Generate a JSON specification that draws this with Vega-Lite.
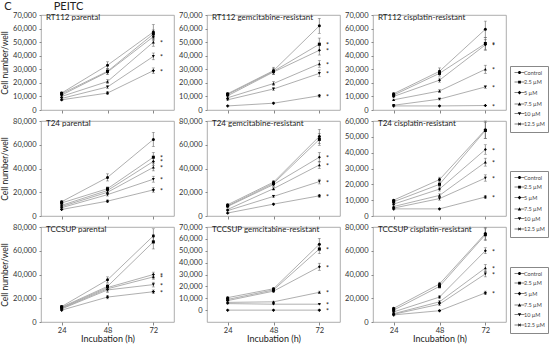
{
"$schema": "https://vega.github.io/schema/vega-lite/v6.json",
"padding": {"left": 0, "top": 0, "right": 0, "bottom": 0},
"title": {"text": "C\u00a0\u00a0\u00a0\u00a0\u00a0\u00a0\u00a0\u00a0\u00a0\u00a0\u00a0\u00a0\u00a0\u00a0\u00a0PEITC", "anchor": "start", "fontSize": 11, "offset": -1, "dx": 4, "frame": "bounds", "color": "#222"},
"datasets": {"d": [
{"p":1,"s":"Control","t":24,"v":12500,"e":800,"sig":0},{"p":1,"s":"Control","t":48,"v":33000,"e":2500,"sig":0},{"p":1,"s":"Control","t":72,"v":57500,"e":5500,"sig":0},
{"p":1,"s":"2.5 µM","t":24,"v":12000,"e":700,"sig":0},{"p":1,"s":"2.5 µM","t":48,"v":28500,"e":2000,"sig":0},{"p":1,"s":"2.5 µM","t":72,"v":56000,"e":3000,"sig":0},
{"p":1,"s":"5 µM","t":24,"v":11000,"e":700,"sig":0},{"p":1,"s":"5 µM","t":48,"v":28000,"e":2000,"sig":0},{"p":1,"s":"5 µM","t":72,"v":54000,"e":3000,"sig":0},
{"p":1,"s":"7.5 µM","t":24,"v":10000,"e":600,"sig":0},{"p":1,"s":"7.5 µM","t":48,"v":21000,"e":1500,"sig":0},{"p":1,"s":"7.5 µM","t":72,"v":50000,"e":3000,"sig":1},
{"p":1,"s":"10 µM","t":24,"v":8500,"e":500,"sig":0},{"p":1,"s":"10 µM","t":48,"v":17000,"e":1200,"sig":0},{"p":1,"s":"10 µM","t":72,"v":39500,"e":2500,"sig":1},
{"p":1,"s":"12.5 µM","t":24,"v":7500,"e":400,"sig":0},{"p":1,"s":"12.5 µM","t":48,"v":12500,"e":1000,"sig":0},{"p":1,"s":"12.5 µM","t":72,"v":29000,"e":2000,"sig":1},
{"p":2,"s":"Control","t":24,"v":12000,"e":800,"sig":0},{"p":2,"s":"Control","t":48,"v":29000,"e":2500,"sig":0},{"p":2,"s":"Control","t":72,"v":62000,"e":5500,"sig":0},
{"p":2,"s":"2.5 µM","t":24,"v":11500,"e":600,"sig":0},{"p":2,"s":"2.5 µM","t":48,"v":28500,"e":2000,"sig":0},{"p":2,"s":"2.5 µM","t":72,"v":48500,"e":4500,"sig":1},
{"p":2,"s":"5 µM","t":24,"v":10500,"e":600,"sig":0},{"p":2,"s":"5 µM","t":48,"v":28000,"e":2000,"sig":0},{"p":2,"s":"5 µM","t":72,"v":44000,"e":3500,"sig":1},
{"p":2,"s":"7.5 µM","t":24,"v":9000,"e":500,"sig":0},{"p":2,"s":"7.5 µM","t":48,"v":19500,"e":1500,"sig":0},{"p":2,"s":"7.5 µM","t":72,"v":34000,"e":2500,"sig":1},
{"p":2,"s":"10 µM","t":24,"v":7500,"e":500,"sig":0},{"p":2,"s":"10 µM","t":48,"v":15500,"e":1200,"sig":0},{"p":2,"s":"10 µM","t":72,"v":27000,"e":2500,"sig":1},
{"p":2,"s":"12.5 µM","t":24,"v":3000,"e":300,"sig":0},{"p":2,"s":"12.5 µM","t":48,"v":5000,"e":500,"sig":0},{"p":2,"s":"12.5 µM","t":72,"v":10500,"e":1000,"sig":1},
{"p":3,"s":"Control","t":24,"v":12000,"e":600,"sig":0},{"p":3,"s":"Control","t":48,"v":28500,"e":2500,"sig":0},{"p":3,"s":"Control","t":72,"v":59500,"e":6000,"sig":0},
{"p":3,"s":"2.5 µM","t":24,"v":11000,"e":600,"sig":0},{"p":3,"s":"2.5 µM","t":48,"v":27000,"e":2000,"sig":0},{"p":3,"s":"2.5 µM","t":72,"v":49000,"e":4500,"sig":1},
{"p":3,"s":"5 µM","t":24,"v":10000,"e":600,"sig":0},{"p":3,"s":"5 µM","t":48,"v":22000,"e":1500,"sig":0},{"p":3,"s":"5 µM","t":72,"v":48000,"e":4000,"sig":1},
{"p":3,"s":"7.5 µM","t":24,"v":7500,"e":500,"sig":0},{"p":3,"s":"7.5 µM","t":48,"v":14000,"e":1000,"sig":0},{"p":3,"s":"7.5 µM","t":72,"v":30000,"e":3000,"sig":1},
{"p":3,"s":"10 µM","t":24,"v":3500,"e":300,"sig":0},{"p":3,"s":"10 µM","t":48,"v":8000,"e":600,"sig":0},{"p":3,"s":"10 µM","t":72,"v":17000,"e":1000,"sig":1},
{"p":3,"s":"12.5 µM","t":24,"v":3000,"e":200,"sig":0},{"p":3,"s":"12.5 µM","t":48,"v":3000,"e":300,"sig":0},{"p":3,"s":"12.5 µM","t":72,"v":3300,"e":300,"sig":1},
{"p":4,"s":"Control","t":24,"v":12000,"e":800,"sig":0},{"p":4,"s":"Control","t":48,"v":32500,"e":3000,"sig":0},{"p":4,"s":"Control","t":72,"v":64500,"e":6000,"sig":0},
{"p":4,"s":"2.5 µM","t":24,"v":11000,"e":600,"sig":0},{"p":4,"s":"2.5 µM","t":48,"v":23000,"e":1500,"sig":0},{"p":4,"s":"2.5 µM","t":72,"v":49500,"e":4000,"sig":1},
{"p":4,"s":"5 µM","t":24,"v":9000,"e":600,"sig":0},{"p":4,"s":"5 µM","t":48,"v":21500,"e":1500,"sig":0},{"p":4,"s":"5 µM","t":72,"v":46000,"e":3500,"sig":1},
{"p":4,"s":"7.5 µM","t":24,"v":8000,"e":500,"sig":0},{"p":4,"s":"7.5 µM","t":48,"v":20000,"e":1500,"sig":0},{"p":4,"s":"7.5 µM","t":72,"v":41000,"e":3000,"sig":1},
{"p":4,"s":"10 µM","t":24,"v":7000,"e":500,"sig":0},{"p":4,"s":"10 µM","t":48,"v":18000,"e":1200,"sig":0},{"p":4,"s":"10 µM","t":72,"v":31000,"e":2500,"sig":1},
{"p":4,"s":"12.5 µM","t":24,"v":5500,"e":400,"sig":0},{"p":4,"s":"12.5 µM","t":48,"v":12500,"e":1000,"sig":0},{"p":4,"s":"12.5 µM","t":72,"v":22000,"e":2000,"sig":1},
{"p":5,"s":"Control","t":24,"v":9500,"e":500,"sig":0},{"p":5,"s":"Control","t":48,"v":28500,"e":1500,"sig":0},{"p":5,"s":"Control","t":72,"v":67000,"e":6000,"sig":0},
{"p":5,"s":"2.5 µM","t":24,"v":8500,"e":500,"sig":0},{"p":5,"s":"2.5 µM","t":48,"v":27500,"e":1500,"sig":0},{"p":5,"s":"2.5 µM","t":72,"v":64500,"e":5000,"sig":0},
{"p":5,"s":"5 µM","t":24,"v":8000,"e":500,"sig":0},{"p":5,"s":"5 µM","t":48,"v":26500,"e":1500,"sig":0},{"p":5,"s":"5 µM","t":72,"v":49500,"e":4000,"sig":1},
{"p":5,"s":"7.5 µM","t":24,"v":5500,"e":400,"sig":0},{"p":5,"s":"7.5 µM","t":48,"v":23000,"e":1200,"sig":0},{"p":5,"s":"7.5 µM","t":72,"v":43000,"e":3000,"sig":1},
{"p":5,"s":"10 µM","t":24,"v":4500,"e":300,"sig":0},{"p":5,"s":"10 µM","t":48,"v":16500,"e":1000,"sig":0},{"p":5,"s":"10 µM","t":72,"v":29000,"e":2000,"sig":1},
{"p":5,"s":"12.5 µM","t":24,"v":2500,"e":200,"sig":0},{"p":5,"s":"12.5 µM","t":48,"v":10000,"e":600,"sig":0},{"p":5,"s":"12.5 µM","t":72,"v":17000,"e":1200,"sig":1},
{"p":6,"s":"Control","t":24,"v":10000,"e":500,"sig":0},{"p":6,"s":"Control","t":48,"v":23000,"e":1500,"sig":0},{"p":6,"s":"Control","t":72,"v":54500,"e":5500,"sig":0},
{"p":6,"s":"2.5 µM","t":24,"v":9000,"e":500,"sig":0},{"p":6,"s":"2.5 µM","t":48,"v":20000,"e":1500,"sig":0},{"p":6,"s":"2.5 µM","t":72,"v":54000,"e":5000,"sig":0},
{"p":6,"s":"5 µM","t":24,"v":7500,"e":400,"sig":0},{"p":6,"s":"5 µM","t":48,"v":17000,"e":1200,"sig":0},{"p":6,"s":"5 µM","t":72,"v":42000,"e":3000,"sig":1},
{"p":6,"s":"7.5 µM","t":24,"v":6000,"e":400,"sig":0},{"p":6,"s":"7.5 µM","t":48,"v":13000,"e":1000,"sig":0},{"p":6,"s":"7.5 µM","t":72,"v":34000,"e":2500,"sig":1},
{"p":6,"s":"10 µM","t":24,"v":5000,"e":300,"sig":0},{"p":6,"s":"10 µM","t":48,"v":11000,"e":1000,"sig":0},{"p":6,"s":"10 µM","t":72,"v":24000,"e":2000,"sig":1},
{"p":6,"s":"12.5 µM","t":24,"v":4500,"e":300,"sig":0},{"p":6,"s":"12.5 µM","t":48,"v":4500,"e":400,"sig":0},{"p":6,"s":"12.5 µM","t":72,"v":12000,"e":1000,"sig":1},
{"p":7,"s":"Control","t":24,"v":13000,"e":800,"sig":0},{"p":7,"s":"Control","t":48,"v":35500,"e":2500,"sig":0},{"p":7,"s":"Control","t":72,"v":72500,"e":6000,"sig":0},
{"p":7,"s":"2.5 µM","t":24,"v":12500,"e":800,"sig":0},{"p":7,"s":"2.5 µM","t":48,"v":30000,"e":2000,"sig":0},{"p":7,"s":"2.5 µM","t":72,"v":67500,"e":6000,"sig":0},
{"p":7,"s":"5 µM","t":24,"v":12000,"e":600,"sig":0},{"p":7,"s":"5 µM","t":48,"v":29000,"e":2000,"sig":0},{"p":7,"s":"5 µM","t":72,"v":40000,"e":2000,"sig":1},
{"p":7,"s":"7.5 µM","t":24,"v":11500,"e":600,"sig":0},{"p":7,"s":"7.5 µM","t":48,"v":28000,"e":2000,"sig":0},{"p":7,"s":"7.5 µM","t":72,"v":38000,"e":2000,"sig":1},
{"p":7,"s":"10 µM","t":24,"v":11000,"e":600,"sig":0},{"p":7,"s":"10 µM","t":48,"v":27000,"e":2000,"sig":0},{"p":7,"s":"10 µM","t":72,"v":31500,"e":2000,"sig":1},
{"p":7,"s":"12.5 µM","t":24,"v":10000,"e":500,"sig":0},{"p":7,"s":"12.5 µM","t":48,"v":21000,"e":1500,"sig":0},{"p":7,"s":"12.5 µM","t":72,"v":25500,"e":1500,"sig":1},
{"p":8,"s":"Control","t":24,"v":10500,"e":500,"sig":0},{"p":8,"s":"Control","t":48,"v":18000,"e":1000,"sig":0},{"p":8,"s":"Control","t":72,"v":55500,"e":5000,"sig":0},
{"p":8,"s":"2.5 µM","t":24,"v":9000,"e":500,"sig":0},{"p":8,"s":"2.5 µM","t":48,"v":17000,"e":1000,"sig":0},{"p":8,"s":"2.5 µM","t":72,"v":51500,"e":4000,"sig":1},
{"p":8,"s":"5 µM","t":24,"v":8000,"e":400,"sig":0},{"p":8,"s":"5 µM","t":48,"v":16000,"e":1000,"sig":0},{"p":8,"s":"5 µM","t":72,"v":36500,"e":3000,"sig":1},
{"p":8,"s":"7.5 µM","t":24,"v":6500,"e":300,"sig":0},{"p":8,"s":"7.5 µM","t":48,"v":7000,"e":500,"sig":0},{"p":8,"s":"7.5 µM","t":72,"v":15000,"e":1000,"sig":1},
{"p":8,"s":"10 µM","t":24,"v":5500,"e":300,"sig":0},{"p":8,"s":"10 µM","t":48,"v":5000,"e":300,"sig":0},{"p":8,"s":"10 µM","t":72,"v":5000,"e":300,"sig":1},
{"p":8,"s":"12.5 µM","t":24,"v":0,"e":0,"sig":0},{"p":8,"s":"12.5 µM","t":48,"v":0,"e":0,"sig":0},{"p":8,"s":"12.5 µM","t":72,"v":0,"e":0,"sig":1},
{"p":9,"s":"Control","t":24,"v":11500,"e":600,"sig":0},{"p":9,"s":"Control","t":48,"v":32000,"e":1500,"sig":0},{"p":9,"s":"Control","t":72,"v":74500,"e":5000,"sig":0},
{"p":9,"s":"2.5 µM","t":24,"v":10000,"e":500,"sig":0},{"p":9,"s":"2.5 µM","t":48,"v":30000,"e":1500,"sig":0},{"p":9,"s":"2.5 µM","t":72,"v":73500,"e":5000,"sig":0},
{"p":9,"s":"5 µM","t":24,"v":8500,"e":500,"sig":0},{"p":9,"s":"5 µM","t":48,"v":21000,"e":1200,"sig":0},{"p":9,"s":"5 µM","t":72,"v":60000,"e":2500,"sig":1},
{"p":9,"s":"7.5 µM","t":24,"v":7000,"e":400,"sig":0},{"p":9,"s":"7.5 µM","t":48,"v":17000,"e":1000,"sig":0},{"p":9,"s":"7.5 µM","t":72,"v":45500,"e":3000,"sig":1},
{"p":9,"s":"10 µM","t":24,"v":6500,"e":400,"sig":0},{"p":9,"s":"10 µM","t":48,"v":15000,"e":1000,"sig":0},{"p":9,"s":"10 µM","t":72,"v":40500,"e":2500,"sig":1},
{"p":9,"s":"12.5 µM","t":24,"v":6000,"e":300,"sig":0},{"p":9,"s":"12.5 µM","t":48,"v":9500,"e":600,"sig":0},{"p":9,"s":"12.5 µM","t":72,"v":24500,"e":1500,"sig":1}
]},
"data": {"name": "d"},
"columns": 3,
"spacing": {"row": 11, "column": 33},
"bounds": "flush",
"resolve": {"scale": {"shape": "independent"}, "legend": {"shape": "independent"}},
"concat": [
 {"width": 133, "height": 95, "title": {"text": "RT112 parental", "color": "#222"}, "transform": [{"filter": "datum.p == 1"}],
  "encoding": {"x": {"field": "t", "type": "ordinal", "scale": {"type": "point", "padding": 0.45}, "axis": {"title": null, "labels": false}},
   "y": {"field": "v", "type": "quantitative", "scale": {"domain": [0, 70000], "nice": false}, "axis": {"title": "Cell number/well", "values": [0,10000,20000,30000,40000,50000,60000,70000], "format": ",d"}}},
  "layer": [
   {"mark": {"type": "line", "color": "#9a9a9a", "strokeWidth": 0.8}, "encoding": {"detail": {"field": "s"}}},
   {"mark": {"type": "errorbar", "ticks": {"size": 3}, "thickness": 0.6, "color": "#555"}, "encoding": {"yError": {"field": "e"}}},
   {"mark": {"type": "point", "filled": true, "color": "black", "size": 9, "opacity": 1}, "encoding": {"shape": {"field": "s", "type": "nominal", "scale": {"domain": ["Control","2.5 µM","5 µM","7.5 µM","10 µM","12.5 µM"], "range": ["circle","square","diamond","triangle-up","triangle-down","cross"]}, "legend": null}}},
   {"transform": [{"filter": "datum.sig == 1"}], "mark": {"type": "text", "text": "*", "dx": 8, "dy": 2, "fontSize": 7, "color": "#222"}}
  ]},
 {"width": 133, "height": 95, "title": {"text": "RT112 gemcitabine-resistant", "color": "#222"}, "transform": [{"filter": "datum.p == 2"}],
  "encoding": {"x": {"field": "t", "type": "ordinal", "scale": {"type": "point", "padding": 0.45}, "axis": {"title": null, "labels": false}},
   "y": {"field": "v", "type": "quantitative", "scale": {"domain": [0, 70000], "nice": false}, "axis": {"title": null, "values": [0,10000,20000,30000,40000,50000,60000,70000], "format": ",d"}}},
  "layer": [
   {"mark": {"type": "line", "color": "#9a9a9a", "strokeWidth": 0.8}, "encoding": {"detail": {"field": "s"}}},
   {"mark": {"type": "errorbar", "ticks": {"size": 3}, "thickness": 0.6, "color": "#555"}, "encoding": {"yError": {"field": "e"}}},
   {"mark": {"type": "point", "filled": true, "color": "black", "size": 9, "opacity": 1}, "encoding": {"shape": {"field": "s", "type": "nominal", "scale": {"domain": ["Control","2.5 µM","5 µM","7.5 µM","10 µM","12.5 µM"], "range": ["circle","square","diamond","triangle-up","triangle-down","cross"]}, "legend": null}}},
   {"transform": [{"filter": "datum.sig == 1"}], "mark": {"type": "text", "text": "*", "dx": 8, "dy": 2, "fontSize": 7, "color": "#222"}}
  ]},
 {"width": 133, "height": 95, "title": {"text": "RT112 cisplatin-resistant", "color": "#222"}, "transform": [{"filter": "datum.p == 3"}],
  "resolve": {"scale": {"shape": "independent"}},
  "encoding": {"x": {"field": "t", "type": "ordinal", "scale": {"type": "point", "padding": 0.45}, "axis": {"title": null, "labels": false}},
   "y": {"field": "v", "type": "quantitative", "scale": {"domain": [0, 70000], "nice": false}, "axis": {"title": null, "values": [0,10000,20000,30000,40000,50000,60000,70000], "format": ",d"}}},
  "layer": [
   {"mark": {"type": "line", "color": "#9a9a9a", "strokeWidth": 0.8}, "encoding": {"detail": {"field": "s"}}},
   {"mark": {"type": "errorbar", "ticks": {"size": 3}, "thickness": 0.6, "color": "#555"}, "encoding": {"yError": {"field": "e"}}},
   {"mark": {"type": "point", "filled": true, "color": "black", "size": 9, "opacity": 1}, "encoding": {"shape": {"field": "s", "type": "nominal", "scale": {"domain": ["Control","2.5 µM","5 µM","7.5 µM","10 µM","12.5 µM"], "range": ["circle","square","diamond","triangle-up","triangle-down","cross"]}, "legend": null}}},
   {"transform": [{"filter": "datum.sig == 1"}], "mark": {"type": "text", "text": "*", "dx": 8, "dy": 2, "fontSize": 7, "color": "#222"}},
   {"mark": {"type": "point", "filled": true, "color": "black", "size": 8, "opacity": 0}, "encoding": {"shape": {"field": "s", "type": "nominal", "scale": {"domain": ["Control","2.5 µM","5 µM","7.5 µM","10 µM","12.5 µM"], "range": [
     "M-2,-0.14H2V0.14H-2ZM0.6,0A0.6,0.6 0 1,1 -0.6,0A0.6,0.6 0 1,1 0.6,0Z",
     "M-2,-0.14H2V0.14H-2ZM-0.55,-0.55H0.55V0.55H-0.55Z",
     "M-2,-0.14H2V0.14H-2ZM0,-0.75L0.75,0L0,0.75L-0.75,0Z",
     "M-2,-0.14H2V0.14H-2ZM0,-0.7L0.7,0.55H-0.7Z",
     "M-2,-0.14H2V0.14H-2ZM0,0.7L-0.7,-0.55H0.7Z",
     "M-2,-0.14H2V0.14H-2ZM-0.6,-0.4L-0.4,-0.6L0,-0.2L0.4,-0.6L0.6,-0.4L0.2,0L0.6,0.4L0.4,0.6L0,0.2L-0.4,0.6L-0.6,0.4L-0.2,0Z"]},
     "legend": {"orient": "none", "legendX": 137, "legendY": 51}}}}
  ]},
 {"width": 133, "height": 95, "title": {"text": "T24 parental", "color": "#222"}, "transform": [{"filter": "datum.p == 4"}],
  "encoding": {"x": {"field": "t", "type": "ordinal", "scale": {"type": "point", "padding": 0.45}, "axis": {"title": null, "labels": false}},
   "y": {"field": "v", "type": "quantitative", "scale": {"domain": [0, 80000], "nice": false}, "axis": {"title": "Cell number/well", "values": [0,20000,40000,60000,80000], "format": ",d"}}},
  "layer": [
   {"mark": {"type": "line", "color": "#9a9a9a", "strokeWidth": 0.8}, "encoding": {"detail": {"field": "s"}}},
   {"mark": {"type": "errorbar", "ticks": {"size": 3}, "thickness": 0.6, "color": "#555"}, "encoding": {"yError": {"field": "e"}}},
   {"mark": {"type": "point", "filled": true, "color": "black", "size": 9, "opacity": 1}, "encoding": {"shape": {"field": "s", "type": "nominal", "scale": {"domain": ["Control","2.5 µM","5 µM","7.5 µM","10 µM","12.5 µM"], "range": ["circle","square","diamond","triangle-up","triangle-down","cross"]}, "legend": null}}},
   {"transform": [{"filter": "datum.sig == 1"}], "mark": {"type": "text", "text": "*", "dx": 8, "dy": 2, "fontSize": 7, "color": "#222"}}
  ]},
 {"width": 133, "height": 95, "title": {"text": "T24 gemcitabine-resistant", "color": "#222"}, "transform": [{"filter": "datum.p == 5"}],
  "encoding": {"x": {"field": "t", "type": "ordinal", "scale": {"type": "point", "padding": 0.45}, "axis": {"title": null, "labels": false}},
   "y": {"field": "v", "type": "quantitative", "scale": {"domain": [0, 80000], "nice": false}, "axis": {"title": null, "values": [0,20000,40000,60000,80000], "format": ",d"}}},
  "layer": [
   {"mark": {"type": "line", "color": "#9a9a9a", "strokeWidth": 0.8}, "encoding": {"detail": {"field": "s"}}},
   {"mark": {"type": "errorbar", "ticks": {"size": 3}, "thickness": 0.6, "color": "#555"}, "encoding": {"yError": {"field": "e"}}},
   {"mark": {"type": "point", "filled": true, "color": "black", "size": 9, "opacity": 1}, "encoding": {"shape": {"field": "s", "type": "nominal", "scale": {"domain": ["Control","2.5 µM","5 µM","7.5 µM","10 µM","12.5 µM"], "range": ["circle","square","diamond","triangle-up","triangle-down","cross"]}, "legend": null}}},
   {"transform": [{"filter": "datum.sig == 1"}], "mark": {"type": "text", "text": "*", "dx": 8, "dy": 2, "fontSize": 7, "color": "#222"}}
  ]},
 {"width": 133, "height": 95, "title": {"text": "T24 cisplatin-resistant", "color": "#222"}, "transform": [{"filter": "datum.p == 6"}],
  "resolve": {"scale": {"shape": "independent"}},
  "encoding": {"x": {"field": "t", "type": "ordinal", "scale": {"type": "point", "padding": 0.45}, "axis": {"title": null, "labels": false}},
   "y": {"field": "v", "type": "quantitative", "scale": {"domain": [0, 60000], "nice": false}, "axis": {"title": null, "values": [0,10000,20000,30000,40000,50000,60000], "format": ",d"}}},
  "layer": [
   {"mark": {"type": "line", "color": "#9a9a9a", "strokeWidth": 0.8}, "encoding": {"detail": {"field": "s"}}},
   {"mark": {"type": "errorbar", "ticks": {"size": 3}, "thickness": 0.6, "color": "#555"}, "encoding": {"yError": {"field": "e"}}},
   {"mark": {"type": "point", "filled": true, "color": "black", "size": 9, "opacity": 1}, "encoding": {"shape": {"field": "s", "type": "nominal", "scale": {"domain": ["Control","2.5 µM","5 µM","7.5 µM","10 µM","12.5 µM"], "range": ["circle","square","diamond","triangle-up","triangle-down","cross"]}, "legend": null}}},
   {"transform": [{"filter": "datum.sig == 1"}], "mark": {"type": "text", "text": "*", "dx": 8, "dy": 2, "fontSize": 7, "color": "#222"}},
   {"mark": {"type": "point", "filled": true, "color": "black", "size": 8, "opacity": 0}, "encoding": {"shape": {"field": "s", "type": "nominal", "scale": {"domain": ["Control","2.5 µM","5 µM","7.5 µM","10 µM","12.5 µM"], "range": [
     "M-2,-0.14H2V0.14H-2ZM0.6,0A0.6,0.6 0 1,1 -0.6,0A0.6,0.6 0 1,1 0.6,0Z",
     "M-2,-0.14H2V0.14H-2ZM-0.55,-0.55H0.55V0.55H-0.55Z",
     "M-2,-0.14H2V0.14H-2ZM0,-0.75L0.75,0L0,0.75L-0.75,0Z",
     "M-2,-0.14H2V0.14H-2ZM0,-0.7L0.7,0.55H-0.7Z",
     "M-2,-0.14H2V0.14H-2ZM0,0.7L-0.7,-0.55H0.7Z",
     "M-2,-0.14H2V0.14H-2ZM-0.6,-0.4L-0.4,-0.6L0,-0.2L0.4,-0.6L0.6,-0.4L0.2,0L0.6,0.4L0.4,0.6L0,0.2L-0.4,0.6L-0.6,0.4L-0.2,0Z"]},
     "legend": {"orient": "none", "legendX": 137, "legendY": 50}}}}
  ]},
 {"width": 133, "height": 95, "title": {"text": "TCCSUP parental", "color": "#222"}, "transform": [{"filter": "datum.p == 7"}],
  "encoding": {"x": {"field": "t", "type": "ordinal", "scale": {"type": "point", "padding": 0.45}, "axis": {"title": "Incubation (h)"}},
   "y": {"field": "v", "type": "quantitative", "scale": {"domain": [0, 80000], "nice": false}, "axis": {"title": "Cell number/well", "values": [0,20000,40000,60000,80000], "format": ",d"}}},
  "layer": [
   {"mark": {"type": "line", "color": "#9a9a9a", "strokeWidth": 0.8}, "encoding": {"detail": {"field": "s"}}},
   {"mark": {"type": "errorbar", "ticks": {"size": 3}, "thickness": 0.6, "color": "#555"}, "encoding": {"yError": {"field": "e"}}},
   {"mark": {"type": "point", "filled": true, "color": "black", "size": 9, "opacity": 1}, "encoding": {"shape": {"field": "s", "type": "nominal", "scale": {"domain": ["Control","2.5 µM","5 µM","7.5 µM","10 µM","12.5 µM"], "range": ["circle","square","diamond","triangle-up","triangle-down","cross"]}, "legend": null}}},
   {"transform": [{"filter": "datum.sig == 1"}], "mark": {"type": "text", "text": "*", "dx": 8, "dy": 2, "fontSize": 7, "color": "#222"}}
  ]},
 {"width": 133, "height": 95, "title": {"text": "TCCSUP gemcitabine-resistant", "color": "#222"}, "transform": [{"filter": "datum.p == 8"}],
  "encoding": {"x": {"field": "t", "type": "ordinal", "scale": {"type": "point", "padding": 0.45}, "axis": {"title": "Incubation (h)"}},
   "y": {"field": "v", "type": "quantitative", "scale": {"domain": [-10000, 70000], "nice": false}, "axis": {"title": null, "values": [0,10000,20000,30000,40000,50000,60000,70000], "format": ",d"}}},
  "layer": [
   {"mark": {"type": "line", "color": "#9a9a9a", "strokeWidth": 0.8}, "encoding": {"detail": {"field": "s"}}},
   {"mark": {"type": "errorbar", "ticks": {"size": 3}, "thickness": 0.6, "color": "#555"}, "encoding": {"yError": {"field": "e"}}},
   {"mark": {"type": "point", "filled": true, "color": "black", "size": 9, "opacity": 1}, "encoding": {"shape": {"field": "s", "type": "nominal", "scale": {"domain": ["Control","2.5 µM","5 µM","7.5 µM","10 µM","12.5 µM"], "range": ["circle","square","diamond","triangle-up","triangle-down","cross"]}, "legend": null}}},
   {"transform": [{"filter": "datum.sig == 1"}], "mark": {"type": "text", "text": "*", "dx": 8, "dy": 2, "fontSize": 7, "color": "#222"}}
  ]},
 {"width": 133, "height": 95, "title": {"text": "TCCSUP cisplatin-resistant", "color": "#222"}, "transform": [{"filter": "datum.p == 9"}],
  "resolve": {"scale": {"shape": "independent"}},
  "encoding": {"x": {"field": "t", "type": "ordinal", "scale": {"type": "point", "padding": 0.45}, "axis": {"title": "Incubation (h)"}},
   "y": {"field": "v", "type": "quantitative", "scale": {"domain": [0, 80000], "nice": false}, "axis": {"title": null, "values": [0,20000,40000,60000,80000], "format": ",d"}}},
  "layer": [
   {"mark": {"type": "line", "color": "#9a9a9a", "strokeWidth": 0.8}, "encoding": {"detail": {"field": "s"}}},
   {"mark": {"type": "errorbar", "ticks": {"size": 3}, "thickness": 0.6, "color": "#555"}, "encoding": {"yError": {"field": "e"}}},
   {"mark": {"type": "point", "filled": true, "color": "black", "size": 9, "opacity": 1}, "encoding": {"shape": {"field": "s", "type": "nominal", "scale": {"domain": ["Control","2.5 µM","5 µM","7.5 µM","10 µM","12.5 µM"], "range": ["circle","square","diamond","triangle-up","triangle-down","cross"]}, "legend": null}}},
   {"transform": [{"filter": "datum.sig == 1"}], "mark": {"type": "text", "text": "*", "dx": 8, "dy": 2, "fontSize": 7, "color": "#222"}},
   {"mark": {"type": "point", "filled": true, "color": "black", "size": 8, "opacity": 0}, "encoding": {"shape": {"field": "s", "type": "nominal", "scale": {"domain": ["Control","2.5 µM","5 µM","7.5 µM","10 µM","12.5 µM"], "range": [
     "M-2,-0.14H2V0.14H-2ZM0.6,0A0.6,0.6 0 1,1 -0.6,0A0.6,0.6 0 1,1 0.6,0Z",
     "M-2,-0.14H2V0.14H-2ZM-0.55,-0.55H0.55V0.55H-0.55Z",
     "M-2,-0.14H2V0.14H-2ZM0,-0.75L0.75,0L0,0.75L-0.75,0Z",
     "M-2,-0.14H2V0.14H-2ZM0,-0.7L0.7,0.55H-0.7Z",
     "M-2,-0.14H2V0.14H-2ZM0,0.7L-0.7,-0.55H0.7Z",
     "M-2,-0.14H2V0.14H-2ZM-0.6,-0.4L-0.4,-0.6L0,-0.2L0.4,-0.6L0.6,-0.4L0.2,0L0.6,0.4L0.4,0.6L0,0.2L-0.4,0.6L-0.6,0.4L-0.2,0Z"]},
     "legend": {"orient": "none", "legendX": 137, "legendY": 40}}}}
  ]}
],
"config": {
 "font": "Lato",
 "view": {"stroke": "#999", "strokeWidth": 0.8},
 "axis": {"domain": false, "grid": false, "labelFont": "Lato", "labelFontSize": 7.5, "labelColor": "#333", "tickColor": "#888", "tickSize": 2, "titleFont": "Lato", "titleFontWeight": "normal", "titleColor": "#222"},
 "axisX": {"tickSize": 3, "labelPadding": 1, "labelAngle": 0, "titleFontSize": 9, "titlePadding": 1},
 "axisY": {"labelPadding": 3, "titleFontSize": 8.5, "titlePadding": 3},
 "title": {"font": "Lato", "fontWeight": "normal", "color": "#222", "anchor": "start", "fontSize": 8, "offset": -11, "dx": 5, "frame": "group"},
 "legend": {"title": null, "labelFont": "Lato", "labelFontSize": 5.5, "labelColor": "#444", "symbolSize": 25, "symbolOffset": 3, "labelOffset": 1, "strokeColor": "#888", "padding": 3, "rowPadding": 0.5}
}
}
